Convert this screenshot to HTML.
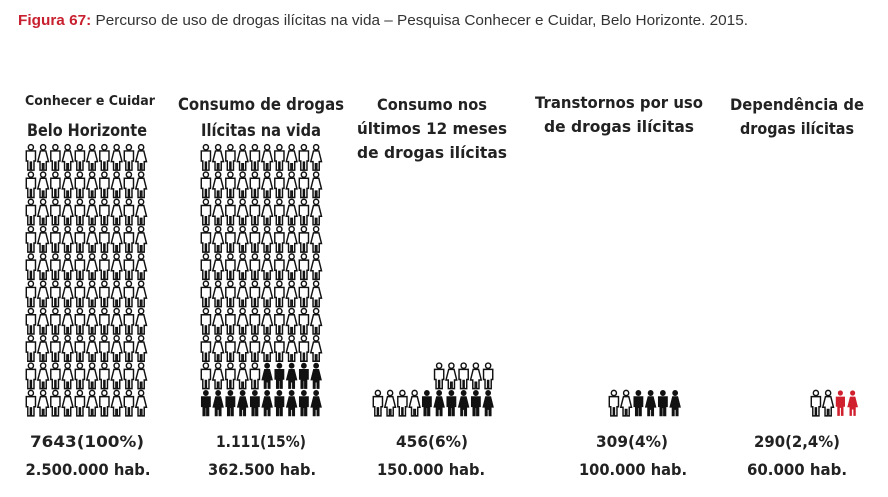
<!DOCTYPE html>
<html><head><meta charset="utf-8"><style>
html,body{margin:0;padding:0;background:#fff;width:888px;height:497px;overflow:hidden}
svg{display:block}
.h{font-family:"DejaVu Sans","Liberation Sans",sans-serif;font-weight:bold;fill:#222;text-anchor:middle}
</style></head><body>
<svg id="s" width="888" height="497" viewBox="0 0 888 497" xmlns="http://www.w3.org/2000/svg">
<defs>
<g id="man"><circle cx="5.5" cy="3" r="2.4"/><path d="M1.2,6.3 H9.8 V15.5 H8.4 V23.8 H6 V16.5 H5 V23.8 H2.6 V15.5 H1.2 Z"/></g>
<g id="wom"><circle cx="5.5" cy="3" r="2.4"/><path d="M3,6.3 H8 L10.5,16 H8.4 V23.8 H6.2 V18 H4.8 V23.8 H2.6 V16 H0.5 Z"/></g>
</defs>
<text x="18" y="25" style="font-family:'Liberation Sans',sans-serif;font-size:15px" textLength="730" lengthAdjust="spacingAndGlyphs"><tspan fill="#c8202f" font-weight="bold">Figura 67:</tspan><tspan fill="#333"> Percurso de uso de drogas ilícitas na vida – Pesquisa Conhecer e Cuidar, Belo Horizonte. 2015.</tspan></text>
<text class="h" x="90" y="105" font-size="13.5" textLength="130" lengthAdjust="spacingAndGlyphs">Conhecer e Cuidar</text>
<text class="h" x="87" y="136" font-size="17" textLength="120" lengthAdjust="spacingAndGlyphs">Belo Horizonte</text>
<text class="h" x="261" y="110" font-size="17" textLength="166" lengthAdjust="spacingAndGlyphs">Consumo de drogas</text>
<text class="h" x="261" y="136" font-size="17" textLength="120" lengthAdjust="spacingAndGlyphs">Ilícitas na vida</text>
<text class="h" x="432" y="110" font-size="16" textLength="110" lengthAdjust="spacingAndGlyphs">Consumo nos</text>
<text class="h" x="432" y="134" font-size="16" textLength="150" lengthAdjust="spacingAndGlyphs">últimos 12 meses</text>
<text class="h" x="432" y="158" font-size="16" textLength="150" lengthAdjust="spacingAndGlyphs">de drogas ilícitas</text>
<text class="h" x="619" y="108" font-size="16" textLength="168" lengthAdjust="spacingAndGlyphs">Transtornos por uso</text>
<text class="h" x="619" y="132" font-size="16" textLength="150" lengthAdjust="spacingAndGlyphs">de drogas ilícitas</text>
<text class="h" x="797" y="110" font-size="16" textLength="134" lengthAdjust="spacingAndGlyphs">Dependência de</text>
<text class="h" x="797" y="134" font-size="16" textLength="114" lengthAdjust="spacingAndGlyphs">drogas ilícitas</text>
<g class="h" font-size="16">
<text x="87" y="447" textLength="114" lengthAdjust="spacingAndGlyphs">7643(100%)</text>
<text x="88" y="475" textLength="125" lengthAdjust="spacingAndGlyphs">2.500.000 hab.</text>
<text x="261" y="447" textLength="90" lengthAdjust="spacingAndGlyphs">1.111(15%)</text>
<text x="262" y="475" textLength="108" lengthAdjust="spacingAndGlyphs">362.500 hab.</text>
<text x="432" y="447" textLength="72" lengthAdjust="spacingAndGlyphs">456(6%)</text>
<text x="431" y="475" textLength="108" lengthAdjust="spacingAndGlyphs">150.000 hab.</text>
<text x="632" y="447" textLength="72" lengthAdjust="spacingAndGlyphs">309(4%)</text>
<text x="633" y="475" textLength="108" lengthAdjust="spacingAndGlyphs">100.000 hab.</text>
<text x="797" y="447" textLength="86" lengthAdjust="spacingAndGlyphs">290(2,4%)</text>
<text x="797" y="475" textLength="100" lengthAdjust="spacingAndGlyphs">60.000 hab.</text>
</g>
<g id="icons"></g>
</svg>
<script>
var g=document.getElementById('icons'),NS='http://www.w3.org/2000/svg';
function ic(x,y,i,t){var u=document.createElementNS(NS,'use');u.setAttribute('href',i%2?'#wom':'#man');
u.setAttribute('transform','translate('+x+','+y+') scale(1.07,1.1)');
if(t==0){u.setAttribute('fill','#fff');u.setAttribute('stroke','#111');u.setAttribute('stroke-width','1.35');}
else if(t==1){u.setAttribute('fill','#111');u.setAttribute('stroke','#111');u.setAttribute('stroke-width','0.6');}
else{u.setAttribute('fill','#d0202e');}
g.appendChild(u);}
var P=12.25,RY=27.3,Y0=144;
for(var r=0;r<10;r++)for(var c=0;c<10;c++)ic(25+c*P,Y0+r*RY,c,0);
for(var r=0;r<10;r++)for(var c=0;c<10;c++){var t=0;if(r==8&&c>=5)t=1;if(r==9)t=1;ic(200+c*P,Y0+r*RY,c,t);}
for(var c=0;c<10;c++)ic(372+c*P,Y0+9*RY,c,c>=4?1:0);
for(var c=5;c<10;c++)ic(372+c*P,Y0+8*RY,c+1,0);
for(var c=0;c<6;c++)ic(608+c*P,Y0+9*RY,c,c>=2?1:0);
for(var c=0;c<4;c++)ic(810+c*P,Y0+9*RY,c,c>=2?2:0);
</script>
</body></html>
